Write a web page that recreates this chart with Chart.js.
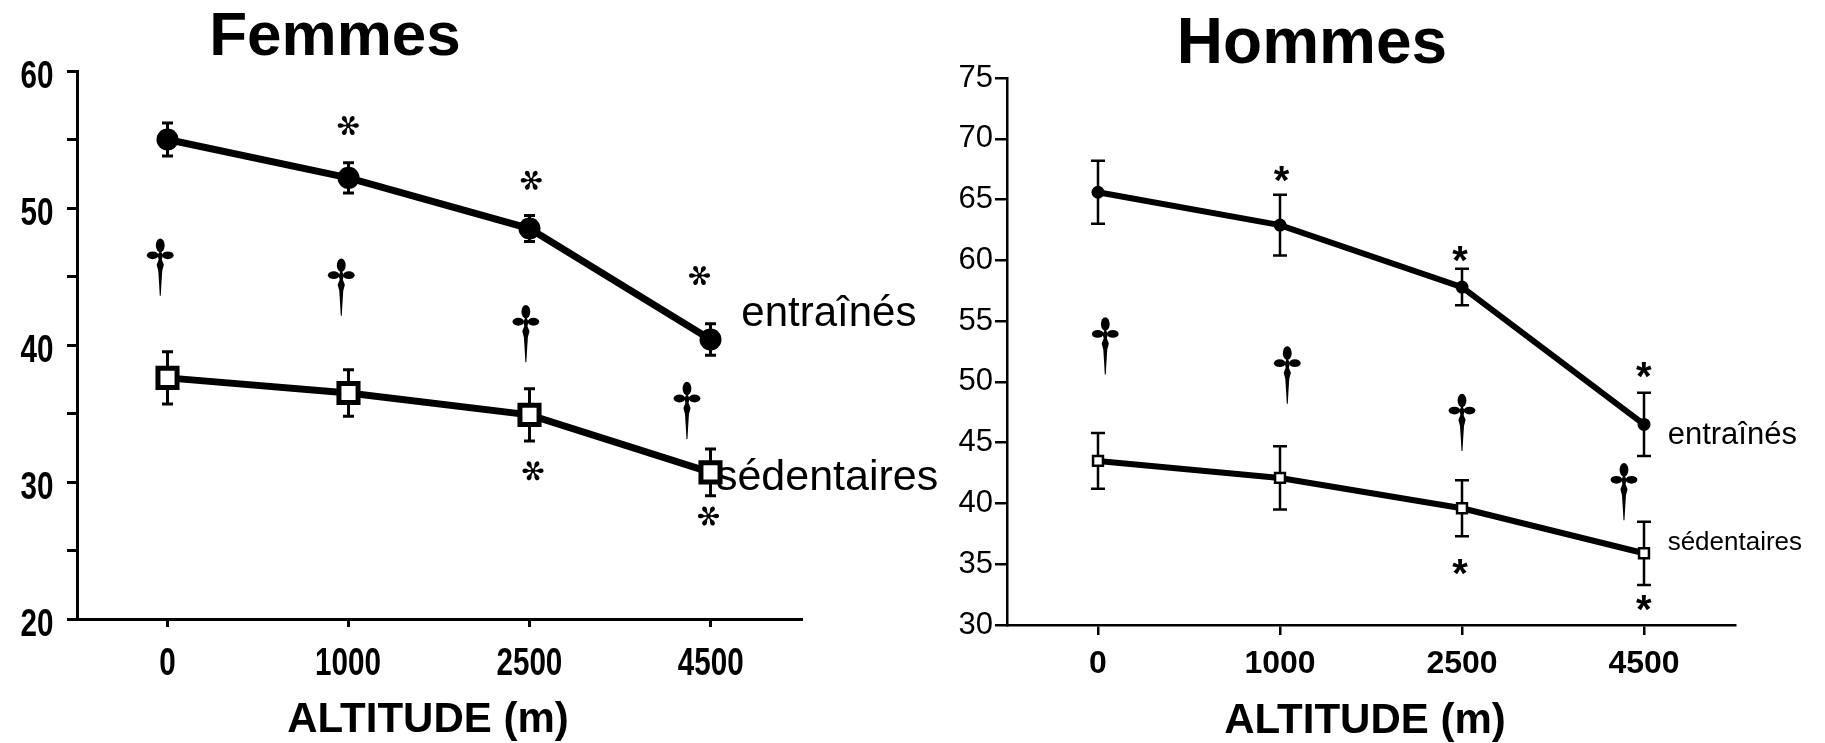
<!DOCTYPE html>
<html>
<head>
<meta charset="utf-8">
<script src="https://cdn.jsdelivr.net/npm/chart.js@4/dist/chart.umd.min.js"></script>
<style>
    body { margin: 0; background: #fff; }
    #wrap { position: relative; width: 1825px; height: 743px; overflow: hidden; }
    #femmes { position: absolute; left: 0; top: 0; }
    #hommes { position: absolute; left: 900px; top: 0; }
</style>
</head>
<body>
<div id="wrap">
    <canvas id="femmes" width="960" height="743"></canvas>
    <canvas id="hommes" width="925" height="743"></canvas>
</div>
<script>
const altitudes = ['0', '1000', '2500', '4500'];
const seriesNames = ['entraînés', 'sédentaires'];
const panelTitles = ['Femmes', 'Hommes'];
const axisTitle = 'ALTITUDE (m)';

// Femmes : moyennes et erreurs standard
const femmesEntraines = [55.0, 52.2, 48.5, 40.4];
const femmesEntrainesSE = [1.2, 1.1, 0.95, 1.15];
const femmesSedentaires = [37.6, 36.5, 34.9, 30.7];
const femmesSedentairesSE = [1.9, 1.7, 1.9, 1.7];
const femmesTicks = [20, 30, 40, 50, 60];

// Hommes
const hommesEntraines = [65.6, 62.9, 57.8, 46.5];
const hommesEntrainesSE = [2.6, 2.5, 1.5, 2.6];
const hommesSedentaires = [43.5, 42.1, 39.6, 35.9];
const hommesSedentairesSE = [2.3, 2.6, 2.3, 2.6];
const hommesTicks = [30, 35, 40, 45, 50, 55, 60, 65, 70, 75];

// marques de significativité : [indice d'altitude, valeur]
const femmesStars = [[1.0, 56.0], [2.01, 52.0], [2.94, 45.05], [2.02, 30.8], [2.99, 27.5]];
const femmesDaggers = [[-0.04, 47.75], [0.96, 46.3], [1.98, 42.9], [2.87, 37.3]];
const hommesStars = [[1.01, 67.1], [1.99, 60.5], [3.0, 51.0], [1.99, 34.8], [3.0, 31.8]];
const hommesDaggers = [[0.04, 55.3], [1.04, 52.9], [2.0, 49.0], [2.89, 43.3]];

// position des noms de séries : [indice d'altitude, valeur]
const femmesNamePos = [[3.17, 42.2], [3.03, 30.3]];
const hommesNamePos = [[3.13, 45.6], [3.13, 36.8]];

function drawDagger(ctx, cx, top, h) {
    const s = h / 57;
    ctx.save();
    ctx.translate(cx, top);
    ctx.scale(s, s);
    ctx.fillStyle = '#000';
    ctx.beginPath();
    ctx.ellipse(0, 6.5, 4.4, 6.8, 0, 0, Math.PI * 2);
    ctx.fill();
    ctx.beginPath();
    ctx.ellipse(-7.6, 16.5, 5.8, 3.9, 0, 0, Math.PI * 2);
    ctx.fill();
    ctx.beginPath();
    ctx.ellipse(7.6, 16.5, 5.8, 3.9, 0, 0, Math.PI * 2);
    ctx.fill();
    ctx.beginPath();
    ctx.moveTo(0, 11);
    ctx.lineTo(2.6, 16.5);
    ctx.lineTo(1.6, 21);
    ctx.lineTo(3.6, 26);
    ctx.lineTo(2.0, 32);
    ctx.lineTo(1.1, 46);
    ctx.lineTo(0.5, 57);
    ctx.lineTo(-0.5, 57);
    ctx.lineTo(-1.1, 46);
    ctx.lineTo(-2.0, 32);
    ctx.lineTo(-3.6, 26);
    ctx.lineTo(-1.6, 21);
    ctx.lineTo(-2.6, 16.5);
    ctx.closePath();
    ctx.fill();
    ctx.restore();
}

// texte centré sur sa boîte d'encre, avec compression horizontale éventuelle
function inkText(ctx, text, x, cy, align, sx, rotation) {
    const m = ctx.measureText(text);
    const w = m.actualBoundingBoxRight + m.actualBoundingBoxLeft;
    ctx.save();
    ctx.translate(x, cy);
    if (rotation) ctx.rotate(rotation);
    ctx.scale(sx || 1, 1);
    ctx.textAlign = 'left';
    ctx.textBaseline = 'alphabetic';
    let x0 = -w / 2;
    if (align === 'right') x0 = -w;
    ctx.fillText(text, x0 + m.actualBoundingBoxLeft, (m.actualBoundingBoxAscent - m.actualBoundingBoxDescent) / 2);
    ctx.restore();
}

const figureMarks = {
    id: 'figureMarks',
    beforeDatasetsDraw(chart, args, opts) {
        const ctx = chart.ctx;
        const y = chart.scales.y;
        ctx.save();
        ctx.strokeStyle = '#000';
        ctx.lineWidth = opts.errWidth;
        chart.data.datasets.forEach((ds, i) => {
            const meta = chart.getDatasetMeta(i);
            ds.data.forEach((v, j) => {
                const e = opts.errors[i][j];
                const px = meta.data[j].x;
                const top = y.getPixelForValue(v + e);
                const bot = y.getPixelForValue(v - e);
                ctx.beginPath();
                ctx.moveTo(px, top);
                ctx.lineTo(px, bot);
                ctx.moveTo(px - opts.capHalf, top);
                ctx.lineTo(px + opts.capHalf, top);
                ctx.moveTo(px - opts.capHalf, bot);
                ctx.lineTo(px + opts.capHalf, bot);
                ctx.stroke();
            });
        });
        ctx.restore();
    },
    afterDatasetsDraw(chart, args, opts) {
        const ctx = chart.ctx;
        const x = chart.scales.x, y = chart.scales.y;
        ctx.save();
        ctx.fillStyle = '#000';

        // étiquettes d'axes en caractères étroits
        if (opts.narrow) {
            const n = opts.narrow;
            ctx.font = n.font;
            y.ticks.forEach(t => {
                if (!n.yLabels.includes(t.value)) return;
                inkText(ctx, String(t.value), n.yRight, y.getPixelForValue(t.value) + n.yShift, 'right', n.scaleX);
            });
            x.ticks.forEach((t, i) => {
                inkText(ctx, x.getLabelForValue(t.value), x.getPixelForTick(i), n.xCenter, 'center', n.scaleX);
            });
        }

        ctx.font = opts.starFont;
        opts.stars.forEach(([i, v]) => {
            inkText(ctx, opts.starChar, x.getPixelForValue(i), y.getPixelForValue(v), 'center', 1, opts.starRotation);
        });

        opts.daggers.forEach(([i, v]) => {
            drawDagger(ctx, x.getPixelForValue(i), y.getPixelForValue(v), opts.daggerHeight);
        });

        ctx.textAlign = 'left';
        ctx.textBaseline = 'middle';
        opts.names.forEach((font, k) => {
            ctx.font = font;
            const [i, v] = opts.namePos[k];
            ctx.fillText(seriesNames[k], x.getPixelForValue(i), y.getPixelForValue(v));
        });

        ctx.textAlign = 'center';
        ctx.textBaseline = 'alphabetic';
        ctx.font = opts.titleFont;
        ctx.fillText(opts.title, opts.titleX, opts.titleY);
        ctx.font = 'bold 42px "Liberation Sans", Arial, sans-serif';
        ctx.fillText(axisTitle, opts.axisTitleX, opts.axisTitleY);
        ctx.restore();
    }
};

function makeChart(id, cfg) {
    return new Chart(document.getElementById(id), {
        type: 'line',
        data: {
            labels: altitudes,
            datasets: [{
                label: seriesNames[0],
                data: cfg.entraines,
                borderColor: '#000',
                borderWidth: cfg.lineWidth,
                pointStyle: 'circle',
                pointRadius: cfg.circleRadius,
                pointBackgroundColor: '#000',
                pointBorderColor: '#000',
                pointBorderWidth: 0,
                tension: 0
            }, {
                label: seriesNames[1],
                data: cfg.sedentaires,
                borderColor: '#000',
                borderWidth: cfg.lineWidth,
                pointStyle: 'rect',
                pointRadius: cfg.squareRadius,
                pointBackgroundColor: '#fff',
                pointBorderColor: '#000',
                pointBorderWidth: cfg.squareBorder,
                tension: 0
            }]
        },
        options: {
            responsive: false,
            animation: false,
            layout: { padding: cfg.padding },
            plugins: {
                legend: { display: false },
                tooltip: { enabled: false },
                figureMarks: cfg.marks
            },
            scales: {
                x: {
                    type: 'category',
                    offset: true,
                    afterFit: s => { s.height = cfg.xHeight; },
                    grid: { drawOnChartArea: false, drawTicks: true, tickLength: cfg.xTickLength, color: '#000', lineWidth: cfg.axisWidth, offset: false },
                    border: { display: true, color: '#000', width: cfg.axisWidth },
                    ticks: { display: cfg.libraryLabels, color: '#000', padding: cfg.xPad, font: cfg.xFont, maxRotation: 0 }
                },
                y: {
                    min: cfg.yMin,
                    max: cfg.yMax,
                    afterFit: s => { s.width = cfg.yWidth; },
                    grid: { drawOnChartArea: false, drawTicks: true, tickLength: cfg.yTickLength, color: '#000', lineWidth: cfg.axisWidth },
                    border: { display: true, color: '#000', width: cfg.axisWidth },
                    ticks: {
                        display: cfg.libraryLabels,
                        stepSize: 5,
                        autoSkip: false,
                        color: '#000',
                        padding: cfg.yPad,
                        font: cfg.yFont,
                        callback: v => cfg.tickLabels.includes(v) ? String(v) : ''
                    }
                }
            }
        },
        plugins: [figureMarks]
    });
}

const arial = '"Liberation Sans", Arial, sans-serif';

makeChart('femmes', {
    entraines: femmesEntraines,
    sedentaires: femmesSedentaires,
    lineWidth: 7,
    circleRadius: 11,
    squareRadius: 13.5,
    squareBorder: 5,
    padding: { top: 71, right: 159, left: 0, bottom: 0 },
    xHeight: 124,
    yWidth: 77,
    axisWidth: 3,
    xTickLength: 8,
    yTickLength: 10,
    libraryLabels: false,
    yMin: 20,
    yMax: 60,
    tickLabels: femmesTicks,
    marks: {
        narrow: {
            font: 'bold 39px ' + arial,
            scaleX: 0.76,
            yLabels: femmesTicks,
            yRight: 53,
            yShift: 3,
            xCenter: 661
        },
        errors: [femmesEntrainesSE, femmesSedentairesSE],
        errWidth: 3,
        capHalf: 5.5,
        stars: femmesStars,
        starChar: '✻',
        starFont: '28px "DejaVu Sans"',
        starRotation: Math.PI / 6,
        daggers: femmesDaggers,
        daggerHeight: 57,
        names: ['42px ' + arial, '43px ' + arial],
        namePos: femmesNamePos,
        title: panelTitles[0],
        titleFont: 'bold 62px ' + arial,
        titleX: 335,
        titleY: 55,
        axisTitleX: 428,
        axisTitleY: 732
    }
});

makeChart('hommes', {
    entraines: hommesEntraines,
    sedentaires: hommesSedentaires,
    lineWidth: 6,
    circleRadius: 6.5,
    squareRadius: 7,
    squareBorder: 2.5,
    padding: { top: 78, right: 90, left: 0, bottom: 0 },
    xHeight: 118,
    yWidth: 107,
    axisWidth: 2.5,
    xTickLength: 10,
    yTickLength: 12,
    libraryLabels: true,
    xPad: 10,
    yPad: 2,
    xFont: { family: arial, weight: 'bold', size: 32 },
    yFont: { family: arial, size: 31 },
    yMin: 30,
    yMax: 75,
    tickLabels: hommesTicks,
    marks: {
        errors: [hommesEntrainesSE, hommesSedentairesSE],
        errWidth: 2.5,
        capHalf: 7,
        stars: hommesStars,
        starChar: '*',
        starFont: 'bold 40px ' + arial,
        starRotation: 0,
        daggers: hommesDaggers,
        daggerHeight: 57,
        names: ['31px ' + arial, '26px ' + arial],
        namePos: hommesNamePos,
        title: panelTitles[1],
        titleFont: 'bold 64px ' + arial,
        titleX: 412,
        titleY: 63,
        axisTitleX: 465,
        axisTitleY: 733
    }
});
</script>
</body>
</html>
